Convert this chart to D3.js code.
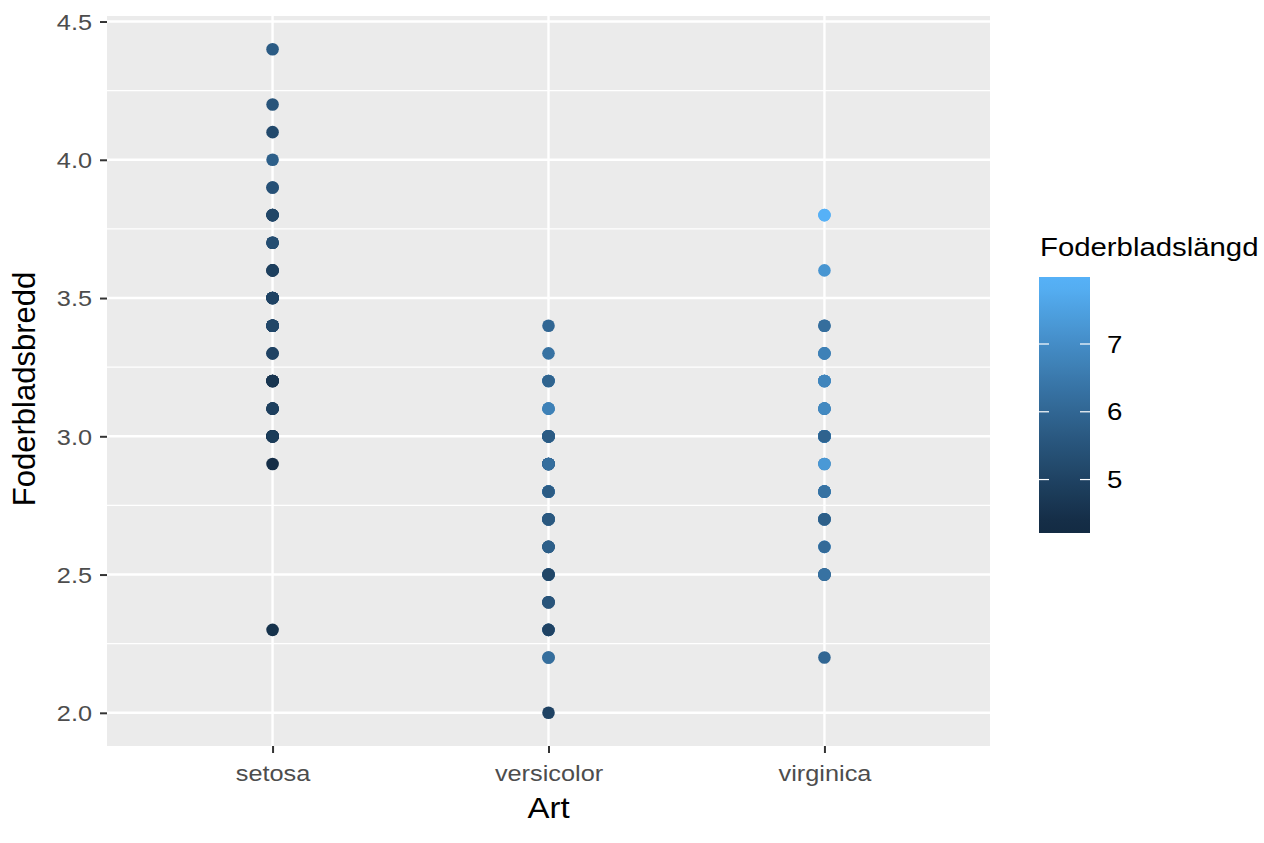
<!DOCTYPE html>
<html>
<head>
<meta charset="utf-8">
<script src="https://cdn.jsdelivr.net/npm/d3@7"></script>
<style>
  body { margin: 0; background: #fff; }
  text { font-family: "Liberation Sans", Arial, sans-serif; }
</style>
</head>
<body>
<svg id="chart" width="1264" height="843"></svg>
<script>
// categories on the x axis
const species = ['setosa', 'versicolor', 'virginica'];

// sepal width per species (y values), in data order
const widthSetosa = [3.5,3.0,3.2,3.1,3.6,3.9,3.4,3.4,2.9,3.1,3.7,3.4,3.0,3.0,4.0,4.4,3.9,3.5,3.8,3.8,
  3.4,3.7,3.6,3.3,3.4,3.0,3.4,3.5,3.4,3.2,3.1,3.4,4.1,4.2,3.1,3.2,3.5,3.6,3.0,3.4,
  3.5,2.3,3.2,3.5,3.8,3.0,3.8,3.2,3.7,3.3];
const widthVersicolor = [3.2,3.2,3.1,2.3,2.8,2.8,3.3,2.4,2.9,2.7,2.0,3.0,2.2,2.9,2.9,3.1,3.0,2.7,2.2,2.5,
  3.2,2.8,2.5,2.8,2.9,3.0,2.8,3.0,2.9,2.6,2.4,2.4,2.7,2.7,3.0,3.4,3.1,2.3,3.0,2.5,
  2.6,3.0,2.6,2.3,2.7,3.0,2.9,2.9,2.5,2.8];
const widthVirginica = [3.3,2.7,3.0,2.9,3.0,3.0,2.5,2.9,2.5,3.6,3.2,2.7,3.0,2.5,2.8,3.2,3.0,3.8,2.6,2.2,
  3.2,2.8,2.8,2.7,3.3,3.2,2.8,3.0,2.8,3.0,2.8,3.8,2.8,2.8,2.6,3.0,3.4,3.1,3.0,3.1,
  3.1,3.1,2.7,3.2,3.3,3.0,2.5,3.0,3.4,3.0];

// sepal length per species (colour values), same order
const lengthSetosa = [5.1,4.9,4.7,4.6,5.0,5.4,4.6,5.0,4.4,4.9,5.4,4.8,4.8,4.3,5.8,5.7,5.4,5.1,5.7,5.1,
  5.4,5.1,4.6,5.1,4.8,5.0,5.0,5.2,5.2,4.7,4.8,5.4,5.2,5.5,4.9,5.0,5.5,4.9,4.4,5.1,
  5.0,4.5,4.4,5.0,5.1,4.8,5.1,4.6,5.3,5.0];
const lengthVersicolor = [7.0,6.4,6.9,5.5,6.5,5.7,6.3,4.9,6.6,5.2,5.0,5.9,6.0,6.1,5.6,6.7,5.6,5.8,6.2,5.6,
  5.9,6.1,6.3,6.1,6.4,6.6,6.8,6.7,6.0,5.7,5.5,5.5,5.8,6.0,5.4,6.0,6.7,6.3,5.6,5.5,
  5.5,6.1,5.8,5.0,5.6,5.7,5.7,6.2,5.1,5.7];
const lengthVirginica = [6.3,5.8,7.1,6.3,6.5,7.6,4.9,7.3,6.7,7.2,6.5,6.4,6.8,5.7,5.8,6.4,6.5,7.7,7.7,6.0,
  6.9,5.6,7.7,6.3,6.7,7.2,6.2,6.1,6.4,7.2,7.4,7.9,6.4,6.3,6.1,7.7,6.3,6.4,6.0,6.9,
  6.7,6.9,5.8,6.8,6.7,6.7,6.3,6.5,6.2,5.9];

// tick labels
const yTicks = [2.0, 2.5, 3.0, 3.5, 4.0, 4.5];
const yMinor = [2.25, 2.75, 3.25, 3.75, 4.25];
const legendTicks = [5, 6, 7];

const widths = [widthSetosa, widthVersicolor, widthVirginica];
const lengths = [lengthSetosa, lengthVersicolor, lengthVirginica];

// flatten into point rows, keep the data order (later points drawn on top)
var points = [];
species.forEach(function(s, i) {
  widths[i].forEach(function(w, j) {
    points.push({ species: s, width: w, length: lengths[i][j] });
  });
});

const svg = d3.select('#chart');

// panel box
const pLeft = 107, pRight = 990, pTop = 16, pBottom = 746;

const x = d3.scalePoint()
  .domain(species)
  .range([pLeft, pRight])
  .padding(0.6);

const allW = points.map(d => d.width);
const wMin = d3.min(allW), wMax = d3.max(allW);
const wPad = (wMax - wMin) * 0.05;
const y = d3.scaleLinear()
  .domain([wMin - wPad, wMax + wPad])
  .range([pBottom, pTop]);

const allL = points.map(d => d.length);
const lMin = d3.min(allL), lMax = d3.max(allL);
const color = d3.scaleLinear()
  .domain([lMin, lMax])
  .range(['#132B43', '#56B1F7'])
  .interpolate(d3.interpolateLab)
  .clamp(true);

// stretch text a little wider, the reference glyphs are broad
function stretch(sel, k) {
  sel.each(function() {
    var w = this.getComputedTextLength();
    d3.select(this).attr('textLength', w * k).attr('lengthAdjust', 'spacingAndGlyphs');
  });
}

//panel background
svg.append('rect')
  .attr('x', pLeft).attr('y', pTop)
  .attr('width', pRight - pLeft).attr('height', pBottom - pTop)
  .style('fill', '#EBEBEB');

//minor grid
svg.selectAll('.minor')
  .data(yMinor).enter().append('line')
  .attr('x1', pLeft).attr('x2', pRight)
  .attr('y1', d => y(d)).attr('y2', d => y(d))
  .style('stroke', '#fff').style('stroke-width', 1.2);

//major grid
svg.selectAll('.majorY')
  .data(yTicks).enter().append('line')
  .attr('x1', pLeft).attr('x2', pRight)
  .attr('y1', d => y(d)).attr('y2', d => y(d))
  .style('stroke', '#fff').style('stroke-width', 2.4);

svg.selectAll('.majorX')
  .data(species).enter().append('line')
  .attr('x1', d => x(d)).attr('x2', d => x(d))
  .attr('y1', pTop).attr('y2', pBottom)
  .style('stroke', '#fff').style('stroke-width', 2.4);

//points
svg.append('g').selectAll('circle')
  .data(points).enter().append('circle')
  .attr('cx', d => x(d.species))
  .attr('cy', d => y(d.width))
  .attr('r', 6.3)
  .style('fill', d => color(d.length));

//y axis
const yAxis = svg.append('g')
  .attr('transform', 'translate(' + pLeft + ',0)')
  .call(d3.axisLeft(y).tickValues(yTicks).tickFormat(d3.format('.1f')).tickSize(7).tickPadding(8));
yAxis.select('.domain').remove();
yAxis.selectAll('line').style('stroke', '#333').style('stroke-width', 2);
yAxis.selectAll('text')
  .attr('dy', '0.35em')
  .style('font-size', '22px')
  .style('font-family', '"Liberation Sans", Arial, sans-serif')
  .style('fill', '#4D4D4D')
  .call(stretch, 1.15);

//x axis
const xAxis = svg.append('g')
  .attr('transform', 'translate(0,' + pBottom + ')')
  .call(d3.axisBottom(x).tickSize(7).tickPadding(8));
xAxis.select('.domain').remove();
xAxis.selectAll('line').style('stroke', '#333').style('stroke-width', 2);
xAxis.selectAll('text')
  .attr('dy', null)
  .attr('y', 35)
  .style('font-size', '22px')
  .style('font-family', '"Liberation Sans", Arial, sans-serif')
  .style('fill', '#4D4D4D')
  .call(stretch, 1.15);

//axis titles
svg.append('text')
  .attr('x', (pLeft + pRight) / 2)
  .attr('y', 818)
  .style('font-size', '30px')
  .style('text-anchor', 'middle')
  .style('fill', '#000')
  .text('Art')
  .call(stretch, 1.1);

svg.append('text')
  .attr('transform', 'translate(35,389) rotate(-90)')
  .style('font-size', '31px')
  .style('text-anchor', 'middle')
  .style('fill', '#000')
  .text('Foderbladsbredd');

//legend
const lgX = 1039, lgW = 51, lgTop = 277, lgBottom = 533;
const legendY = d3.scaleLinear()
  .domain([lMin, lMax])
  .range([527, 283]);

svg.append('text')
  .attr('x', 1040)
  .attr('y', 256)
  .style('font-size', '25.5px')
  .style('fill', '#000')
  .text('Foderbladslängd')
  .call(stretch, 1.15);

const defs = svg.append('defs');
const grad = defs.append('linearGradient')
  .attr('id', 'lg')
  .attr('gradientUnits', 'userSpaceOnUse')
  .attr('x1', 0).attr('x2', 0)
  .attr('y1', lgBottom).attr('y2', lgTop);
d3.range(0, 1.0001, 0.05).forEach(function(t) {
  var yy = lgBottom + (lgTop - lgBottom) * t;
  grad.append('stop')
    .attr('offset', t)
    .attr('stop-color', color(legendY.invert(yy)));
});

svg.append('rect')
  .attr('x', lgX).attr('y', lgTop)
  .attr('width', lgW).attr('height', lgBottom - lgTop)
  .style('fill', 'url(#lg)');

svg.selectAll('.ltl')
  .data(legendTicks).enter().append('line')
  .attr('x1', lgX).attr('x2', lgX + 10)
  .attr('y1', d => legendY(d)).attr('y2', d => legendY(d))
  .style('stroke', '#fff').style('stroke-width', 1.2);
svg.selectAll('.ltr')
  .data(legendTicks).enter().append('line')
  .attr('x1', lgX + lgW - 10).attr('x2', lgX + lgW)
  .attr('y1', d => legendY(d)).attr('y2', d => legendY(d))
  .style('stroke', '#fff').style('stroke-width', 1.2);

svg.selectAll('.ltxt')
  .data(legendTicks).enter().append('text')
  .attr('x', 1107)
  .attr('y', d => legendY(d))
  .attr('dy', '0.36em')
  .style('font-size', '24px')
  .style('fill', '#000')
  .text(d => d)
  .call(stretch, 1.15);
</script>
</body>
</html>
